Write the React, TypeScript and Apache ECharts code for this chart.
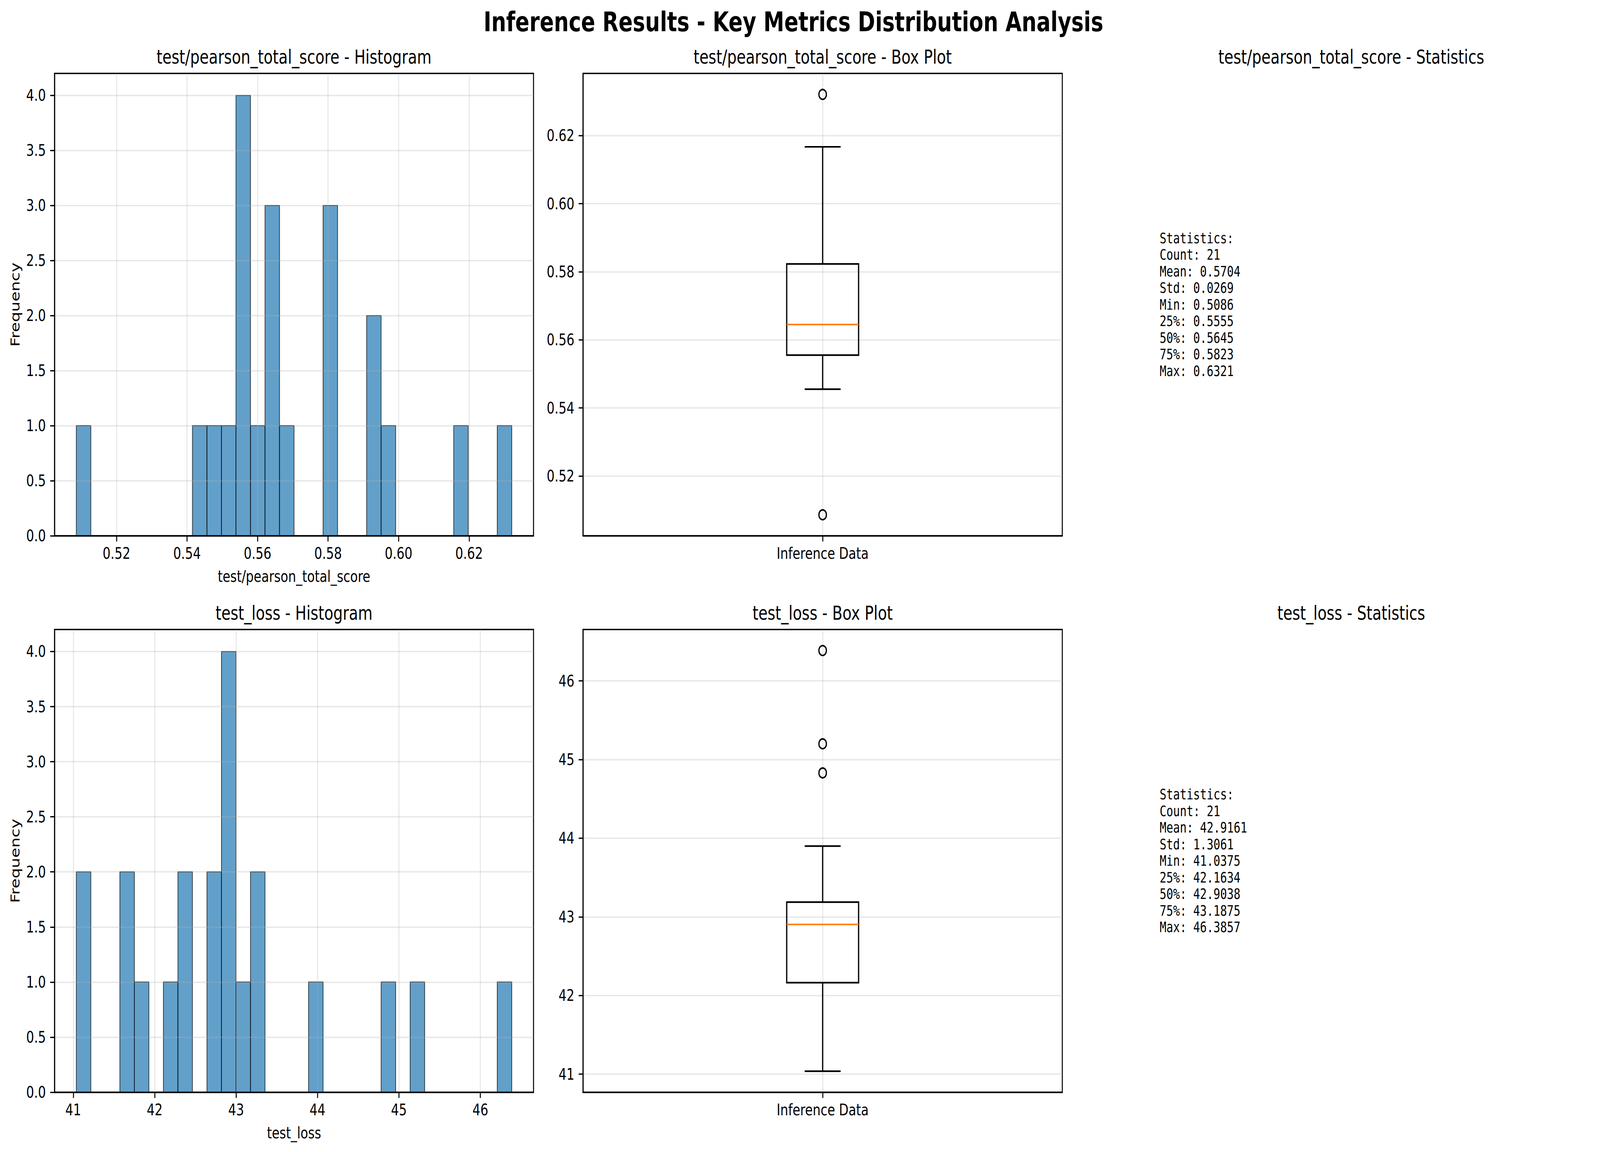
import React, { useEffect, useRef, useState } from 'react';
import * as echarts from 'echarts';

// ---------------- data ----------------
const PEARSON_NAME = 'test/pearson_total_score';
const LOSS_NAME = 'test_loss';

// histogram bin counts (30 equal bins between min and max)
const PEARSON_COUNTS = [1, 0, 0, 0, 0, 0, 0, 0, 1, 1, 1, 4, 1, 3, 1, 0, 0, 3, 0, 0, 2, 1, 0, 0, 0, 0, 1, 0, 0, 1];
const LOSS_COUNTS = [2, 0, 0, 2, 1, 0, 1, 2, 0, 2, 4, 1, 2, 0, 0, 0, 1, 0, 0, 0, 0, 1, 0, 1, 0, 0, 0, 0, 0, 1];

// statistics: Count, Mean, Std, Min, 25%, 50%, 75%, Max
const STAT_LABELS = ['Count', 'Mean', 'Std', 'Min', '25%', '50%', '75%', 'Max'];
const PEARSON_STATS = [21, 0.5704, 0.0269, 0.5086, 0.5555, 0.5645, 0.5823, 0.6321];
const LOSS_STATS = [21, 42.9161, 1.3061, 41.0375, 42.1634, 42.9038, 43.1875, 46.3857];

// box plot whiskers [low, high] and outliers
const PEARSON_WHISKERS = [0.5455, 0.6167];
const LOSS_WHISKERS = [41.0375, 43.9];
const PEARSON_OUTLIERS = [0.5086, 0.6321];
const LOSS_OUTLIERS = [44.83, 45.2, 46.3857];

// tick labels
const PEARSON_TICKS = [0.52, 0.54, 0.56, 0.58, 0.6, 0.62];
const LOSS_TICKS = [41, 42, 43, 44, 45, 46];
const FREQ_TICKS = [0, 0.5, 1, 1.5, 2, 2.5, 3, 3.5, 4];

// ---------------- layout / style ----------------
const W = 5368;
const H = 2950;
const FONT = 'DejaVu Sans';
const MONO = 'DejaVu Sans Mono';
const LW = 3.33; // 0.8pt
const LW_BOX = 4.17; // 1pt
const TICK_FS = 41.7;
const TITLE_FS = 50;
const SUPTITLE_FS = 70;
const ROW_TOP = [188, 1612];
const ROW_H = [1184, 1185];
const COL_LEFT = [183, 1956, 3730];
const COL_W = [1607, 1608, 1607];
const BOX_WIDTH = 0.15;

function histData(counts: number[], lo: number, hi: number) {
  const n = counts.length;
  const w = (hi - lo) / n;
  const out: number[][] = [];
  counts.forEach((c, i) => {
    if (c > 0) out.push([lo + i * w, lo + (i + 1) * w, c]);
  });
  return out;
}

function pad(lo: number, hi: number) {
  const m = (hi - lo) * 0.05;
  return [lo - m, hi + m];
}

function statsText(vals: number[]) {
  const lines = ['Statistics:'];
  STAT_LABELS.forEach((l, i) => {
    lines.push(`${l}: ${i === 0 ? String(vals[i]) : vals[i].toFixed(4)}`);
  });
  return lines.join('\n');
}

const labelStyle = { color: '#000', fontSize: TICK_FS, fontFamily: FONT };

function valueAxis(opts: any) {
  const { gridIndex, min, max, ticks, fmt, name, nameGap, vertical, z, nameRotate } = opts;
  const ax: any = {
    type: 'value',
    gridIndex,
    min,
    max,
    z: z ?? 0,
    axisLine: { show: true, onZero: false, lineStyle: { color: '#000', width: LW } },
    axisTick: { show: true, inside: false, length: 14.6, lineStyle: { color: '#000', width: LW }, customValues: ticks },
    axisLabel: {
      show: true,
      customValues: ticks,
      formatter: fmt,
      margin: vertical ? 29 : 24,
      ...labelStyle,
    },
    splitLine: { show: true, lineStyle: { color: '#b0b0b0', opacity: 0.3, width: LW } },
  };
  if (name) {
    ax.name = name;
    ax.nameLocation = 'middle';
    ax.nameGap = nameGap;
    ax.nameTextStyle = { ...labelStyle };
    if (nameRotate !== undefined) ax.nameRotate = nameRotate;
  }
  return ax;
}

function gridAt(row: number, col: number) {
  return {
    left: COL_LEFT[col],
    top: ROW_TOP[row],
    width: COL_W[col],
    height: ROW_H[row],
    show: true,
    borderColor: '#000',
    borderWidth: LW,
    backgroundColor: 'transparent',
    containLabel: false,
    outerBoundsMode: 'none',
  };
}

const histRender = (params: any, api: any) => {
  const x0 = api.value(0);
  const x1 = api.value(1);
  const c = api.value(2);
  const p0 = api.coord([x0, c]);
  const p1 = api.coord([x1, 0]);
  return {
    type: 'rect',
    shape: { x: p0[0], y: p0[1], width: p1[0] - p0[0], height: p1[1] - p0[1] },
    style: { fill: 'rgba(31,119,180,0.7)', stroke: 'rgba(0,0,0,0.7)', lineWidth: 2.5 },
  };
};

const boxRender = (params: any, api: any) => {
  const x = api.value(0);
  const lo = api.value(1);
  const q1 = api.value(2);
  const med = api.value(3);
  const q3 = api.value(4);
  const hi = api.value(5);
  const hw = BOX_WIDTH / 2;
  const cw = BOX_WIDTH / 4;
  const tl = api.coord([x - hw, q3]);
  const br = api.coord([x + hw, q1]);
  const pLo = api.coord([x, lo]);
  const pHi = api.coord([x, hi]);
  const pMed = api.coord([x, med]);
  const cl = api.coord([x - cw, lo])[0];
  const cr = api.coord([x + cw, lo])[0];
  const st = { stroke: '#000', lineWidth: LW_BOX, fill: 'none' };
  return {
    type: 'group',
    children: [
      { type: 'line', shape: { x1: pLo[0], y1: br[1], x2: pLo[0], y2: pLo[1] }, style: st },
      { type: 'line', shape: { x1: pHi[0], y1: tl[1], x2: pHi[0], y2: pHi[1] }, style: st },
      { type: 'line', shape: { x1: cl, y1: pLo[1], x2: cr, y2: pLo[1] }, style: st },
      { type: 'line', shape: { x1: cl, y1: pHi[1], x2: cr, y2: pHi[1] }, style: st },
      { type: 'rect', shape: { x: tl[0], y: tl[1], width: br[0] - tl[0], height: br[1] - tl[1] }, style: st },
      { type: 'line', shape: { x1: tl[0], y1: pMed[1], x2: br[0], y2: pMed[1] }, style: { stroke: '#ff7f0e', lineWidth: LW_BOX } },
    ],
  };
};

function buildOption() {
  const pRange = pad(PEARSON_STATS[3], PEARSON_STATS[7]);
  const lRange = pad(LOSS_STATS[3], LOSS_STATS[7]);
  const metrics = [
    { name: PEARSON_NAME, counts: PEARSON_COUNTS, stats: PEARSON_STATS, range: pRange, ticks: PEARSON_TICKS, fmt: (v: number) => v.toFixed(2), whiskers: PEARSON_WHISKERS, outliers: PEARSON_OUTLIERS },
    { name: LOSS_NAME, counts: LOSS_COUNTS, stats: LOSS_STATS, range: lRange, ticks: LOSS_TICKS, fmt: (v: number) => v.toFixed(0), whiskers: LOSS_WHISKERS, outliers: LOSS_OUTLIERS },
  ];

  const grids: any[] = [];
  const xAxes: any[] = [];
  const yAxes: any[] = [];
  const series: any[] = [];
  const graphics: any[] = [];

  graphics.push({
    type: 'text',
    x: 2662,
    y: 80 - 0.346 * SUPTITLE_FS,
    style: {
      text: 'Inference Results - Key Metrics Distribution Analysis',
      fill: '#000',
      font: `bold ${SUPTITLE_FS}px "${FONT}"`,
      fontSize: SUPTITLE_FS,
      fontWeight: 'bold',
      fontFamily: FONT,
      align: 'center',
      textAlign: 'center',
      verticalAlign: 'middle',
      textVerticalAlign: 'middle',
    },
  });

  metrics.forEach((m, row) => {
    const lo = m.stats[3];
    const hi = m.stats[7];
    // histogram
    const gh = grids.length;
    grids.push(gridAt(row, 0));
    xAxes.push(valueAxis({ gridIndex: gh, min: m.range[0], max: m.range[1], ticks: m.ticks, fmt: m.fmt, name: m.name, nameGap: 83, z: 10 }));
    yAxes.push(valueAxis({ gridIndex: gh, min: 0, max: 4.2, ticks: FREQ_TICKS, fmt: (v: number) => v.toFixed(1), name: 'Frequency', nameGap: 111, vertical: true, z: 10, nameRotate: 90 }));
    series.push({
      type: 'custom',
      xAxisIndex: gh,
      yAxisIndex: gh,
      renderItem: histRender,
      encode: { x: [0, 1], y: 2 },
      data: histData(m.counts, lo, hi),
      clip: false,
    });

    // box plot
    const gb = grids.length;
    grids.push(gridAt(row, 1));
    xAxes.push(valueAxis({ gridIndex: gb, min: 0.5, max: 1.5, ticks: [1], fmt: () => 'Inference Data' }));
    yAxes.push(valueAxis({ gridIndex: gb, min: m.range[0], max: m.range[1], ticks: m.ticks, fmt: m.fmt, vertical: true }));
    series.push({
      type: 'custom',
      xAxisIndex: gb,
      yAxisIndex: gb,
      renderItem: boxRender,
      encode: { x: 0, y: [1, 2, 3, 4, 5] },
      data: [[1, m.whiskers[0], m.stats[4], m.stats[5], m.stats[6], m.whiskers[1]]],
      z: 3,
    });
    series.push({
      type: 'scatter',
      xAxisIndex: gb,
      yAxisIndex: gb,
      symbol: 'circle',
      symbolSize: 25,
      itemStyle: { color: 'rgba(0,0,0,0)', borderColor: '#000', borderWidth: LW_BOX, opacity: 1 },
      data: m.outliers.map((v) => [1, v]),
      z: 4,
    });

    // titles
    const titleY = ROW_TOP[row] - 25 - 0.346 * TITLE_FS;
    const titles = [`${m.name} - Histogram`, `${m.name} - Box Plot`, `${m.name} - Statistics`];
    titles.forEach((t, col) => {
      graphics.push({
        type: 'text',
        x: COL_LEFT[col] + COL_W[col] / 2,
        y: titleY,
        style: {
          text: t,
          fill: '#000',
          font: `${TITLE_FS}px "${FONT}"`,
          fontSize: TITLE_FS,
          fontFamily: FONT,
          align: 'center',
          textAlign: 'center',
          verticalAlign: 'middle',
          textVerticalAlign: 'middle',
        },
      });
    });

    // statistics text
    graphics.push({
      type: 'text',
      x: COL_LEFT[2] + 0.1 * COL_W[2],
      y: ROW_TOP[row] + ROW_H[row] / 2,
      style: {
        text: statsText(m.stats),
        fill: '#000',
        font: `37.5px "${MONO}"`,
        fontSize: 37.5,
        fontFamily: MONO,
        lineHeight: 42.5,
        align: 'left',
        textAlign: 'left',
        verticalAlign: 'middle',
        textVerticalAlign: 'middle',
      },
    });
  });

  return {
    animation: false,
    backgroundColor: '#ffffff',
    textStyle: { fontFamily: FONT },
    grid: grids,
    xAxis: xAxes,
    yAxis: yAxes,
    series,
    graphic: { elements: graphics },
  };
}

// the page is photographed at whatever size the browser viewport really has;
// map the 5368x2950 design onto that viewport
function viewScale() {
  if (typeof window === 'undefined') return [1, 1];
  const iw = window.innerWidth || document.documentElement.clientWidth || W;
  const ih = window.innerHeight || document.documentElement.clientHeight || H;
  const sx = iw / W;
  const sy = ih / H;
  return [sx > 0 ? sx : 1, sy > 0 ? sy : 1];
}

export default function App() {
  const ref = useRef<HTMLDivElement>(null);
  const [s, setS] = useState<number[]>(viewScale());
  useEffect(() => {
    const onResize = () => setS(viewScale());
    window.addEventListener('resize', onResize);
    return () => window.removeEventListener('resize', onResize);
  }, []);
  useEffect(() => {
    if (!ref.current) return;
    const chart = echarts.init(ref.current, undefined, { renderer: 'svg', width: W, height: H });
    chart.setOption(buildOption() as any);
    return () => chart.dispose();
  }, []);
  return (
    <div
      style={{ position: 'fixed', left: 0, top: 0, width: W * s[0], height: H * s[1], overflow: 'hidden', background: '#fff' }}
    >
      <div
        ref={ref}
        style={{ position: 'absolute', left: 0, top: 0, width: W, height: H, transform: `scale(${s[0]}, ${s[1]})`, transformOrigin: '0 0', background: '#fff' }}
      />
    </div>
  );
}
